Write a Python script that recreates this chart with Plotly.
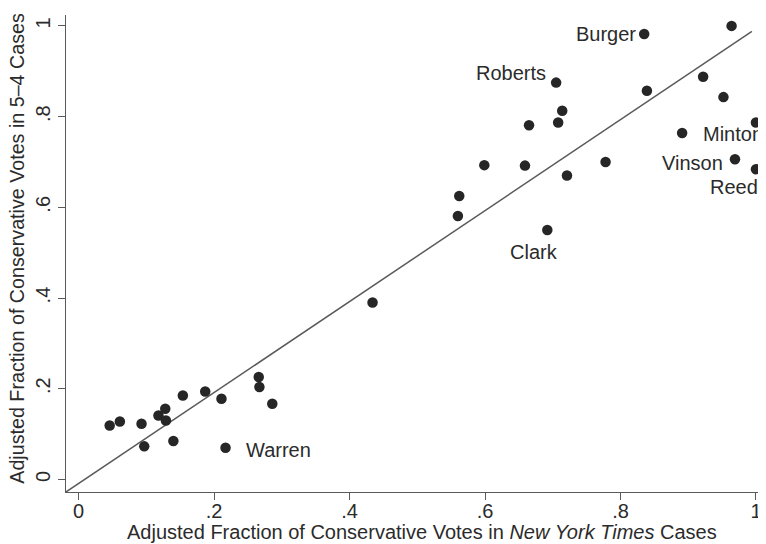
import plotly.graph_objects as go

# Data
nyt_frac = [0.964, 0.835, 0.705, 0.922, 0.839, 0.952, 0.714, 0.708, 0.665, 1.000,
            0.891, 0.599, 0.659, 0.778, 0.721, 0.969, 1.000, 0.562, 0.560, 0.692,
            0.434, 0.046, 0.061, 0.093, 0.097, 0.118, 0.128, 0.129, 0.140, 0.154,
            0.187, 0.211, 0.217, 0.266, 0.267, 0.286]
five4_frac = [1.000, 0.982, 0.875, 0.888, 0.857, 0.843, 0.813, 0.787, 0.781, 0.787,
              0.764, 0.693, 0.692, 0.700, 0.670, 0.706, 0.684, 0.625, 0.581, 0.550,
              0.390, 0.119, 0.128, 0.123, 0.073, 0.141, 0.156, 0.130, 0.085, 0.185,
              0.194, 0.178, 0.070, 0.226, 0.204, 0.167]

# Labelled justices (index into the arrays above)
justice_names = ["Burger", "Roberts", "Minton", "Vinson", "Reed", "Clark", "Warren"]
justice_index = [1, 2, 9, 15, 16, 19, 32]

# Fitted line
fit_x = [-0.0185, 0.994]
fit_intercept = -0.009
fit_slope = 1.003

tick_vals = [0, 0.2, 0.4, 0.6, 0.8, 1]
tick_text = ["0", ".2", ".4", ".6", ".8", "1"]

FONT = "Liberation Sans, Arial, Helvetica, sans-serif"
TXT = "#2b2b2b"
AX = "#5a5a5a"

fig = go.Figure()
fig.add_trace(go.Scatter(
    x=fit_x, y=[fit_intercept + fit_slope * v for v in fit_x],
    mode="lines", line=dict(color="#5a5a5a", width=1.5),
    hoverinfo="skip", showlegend=False))
fig.add_trace(go.Scatter(
    x=nyt_frac, y=five4_frac, mode="markers",
    marker=dict(size=10.5, color="#262626", line=dict(width=0)),
    cliponaxis=False, showlegend=False))

# label placement (style): anchor and pixel shifts
label_style = {
    "Burger": dict(xanchor="right", yanchor="middle", xshift=-6, yshift=0),
    "Roberts": dict(xanchor="right", yanchor="middle", xshift=-8, yshift=10),
    "Minton": dict(xanchor="right", yanchor="middle", xshift=9, yshift=-11),
    "Vinson": dict(xanchor="right", yanchor="middle", xshift=-10, yshift=-4),
    "Reed": dict(xanchor="center", yanchor="middle", xshift=-22, yshift=-18),
    "Clark": dict(xanchor="center", yanchor="middle", xshift=-13, yshift=-22),
    "Warren": dict(xanchor="left", yanchor="middle", xshift=18, yshift=-2),
}
for name, i in zip(justice_names, justice_index):
    fig.add_annotation(x=nyt_frac[i], y=five4_frac[i], text=name, showarrow=False,
                       font=dict(family=FONT, size=20, color=TXT), **label_style[name])

# axis titles
fig.add_annotation(xref="paper", yref="paper", x=0.5086, y=0, yshift=-40,
                   xanchor="center", yanchor="middle", showarrow=False,
                   text="Adjusted Fraction of Conservative Votes in <i>New York Times</i> Cases",
                   font=dict(family=FONT, size=20, color=TXT))
fig.add_annotation(xref="paper", yref="paper", x=0, xshift=-49, y=0.51,
                   xanchor="center", yanchor="middle", showarrow=False, textangle=-90,
                   text="Adjusted Fraction of Conservative Votes in 5\u20134 Cases",
                   font=dict(family=FONT, size=19.7, color=TXT))

axis_common = dict(showline=True, linecolor=AX, linewidth=1.4, ticks="outside",
                   ticklen=7, tickwidth=1.2, tickcolor=AX, showgrid=False,
                   zeroline=False, tickvals=tick_vals, ticktext=tick_text,
                   tickfont=dict(family=FONT, size=20, color=TXT), mirror=False,
                   automargin=False)

# page body has an 8px default margin, so the figure is sized to fit the window
fig.update_layout(
    width=758, height=536,
    margin=dict(l=58, r=0, t=7, b=52),
    paper_bgcolor="white", plot_bgcolor="white",
    xaxis=dict(range=[-0.0185, 1.0148], ticklabelstandoff=-6, **axis_common),
    yaxis=dict(range=[-0.0276, 1.024], tickangle=-90, **axis_common),
    showlegend=False,
)

fig.write_html("out.html")
